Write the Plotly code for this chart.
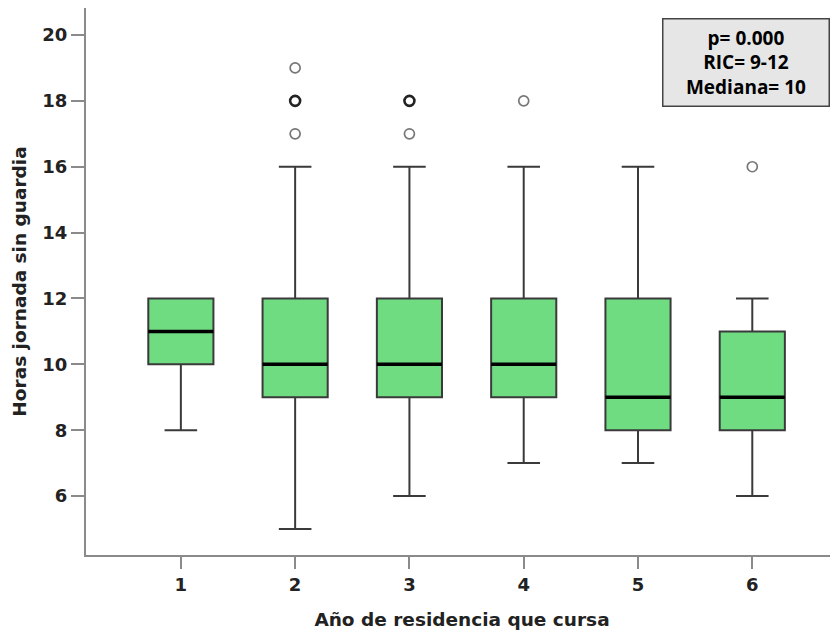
import plotly.graph_objects as go

#------Data----
anios = [1, 2, 3, 4, 5, 6]
q1 = [10, 9, 9, 9, 8, 8]
mediana = [11, 10, 10, 10, 9, 9]
q3 = [12, 12, 12, 12, 12, 11]
bigote_inf = [8, 5, 6, 7, 7, 6]
bigote_sup = [12, 16, 16, 16, 16, 12]

# outliers (n = number of cases overlapping at that point)
out_x = [2, 2, 2, 3, 3, 4, 6]
out_y = [19, 18, 17, 18, 17, 18, 16]
out_n = [1, 3, 1, 3, 1, 1, 1]

y_ticks = [6, 8, 10, 12, 14, 16, 18, 20]

#------Styles----
verde = "rgb(111, 220, 130)"
gris_linea = "#3a3a3a"
gris_eje = "#8a8a8a"
ancho = 0.57

fig = go.Figure()

fig.add_trace(go.Box(
    x=anios,
    q1=q1,
    median=mediana,
    q3=q3,
    lowerfence=bigote_inf,
    upperfence=bigote_sup,
    boxpoints=False,
    width=ancho,
    whiskerwidth=0.5,
    fillcolor=verde,
    line=dict(color=gris_linea, width=2),
    hoverinfo="skip",
    showlegend=False
))

# thick median lines
med_x, med_y = [], []
for a, m in zip(anios, mediana):
    med_x += [a - ancho / 2, a + ancho / 2, None]
    med_y += [m, m, None]
fig.add_trace(go.Scatter(
    x=med_x, y=med_y, mode="lines",
    line=dict(color="black", width=3.5),
    hoverinfo="skip", showlegend=False
))

fig.add_trace(go.Scatter(
    x=out_x, y=out_y, mode="markers",
    marker=dict(
        symbol="circle-open", size=10,
        color=["#222222" if n > 1 else "#777777" for n in out_n],
        line=dict(width=[2.6 if n > 1 else 1.7 for n in out_n])
    ),
    hoverinfo="y", showlegend=False
))

fig.add_annotation(
    x=0.989, y=0.982, xref="paper", yref="paper",
    xanchor="right", yanchor="top",
    text="p= 0.000<br>RIC= 9-12<br>Mediana= 10",
    showarrow=False, align="center", valign="middle",
    font=dict(family="Open Sans", size=19, color="black", weight="bold"),
    bgcolor="#e6e6e6", bordercolor="#444444", borderwidth=1.5,
    borderpad=5, width=155, height=76
)

fig.update_layout(
    width=830, height=629,
    margin=dict(l=78, r=0, t=0, b=82),
    plot_bgcolor="white", paper_bgcolor="white",
    font=dict(family="DejaVu Sans", size=18, color="#222222"),
    xaxis=dict(
        range=[0.17, 6.75],
        tickvals=anios, ticktext=[str(a) for a in anios],
        ticks="outside", ticklen=12, tickwidth=2, tickcolor=gris_eje,
        showline=True, linecolor=gris_eje, linewidth=2,
        showgrid=False, zeroline=False,
        tickfont=dict(size=18, weight="bold"),
        title=dict(text="Año de residencia que cursa", standoff=19,
                   font=dict(size=18.5, weight="bold"))
    ),
    yaxis=dict(
        range=[4.21, 20.82],
        tickvals=y_ticks,
        ticks="outside", ticklen=13, tickwidth=2, tickcolor=gris_eje,
        showline=True, linecolor=gris_eje, linewidth=2,
        showgrid=False, zeroline=False,
        tickfont=dict(size=18, weight="bold"),
        title=dict(text="Horas jornada sin guardia", standoff=11,
                   font=dict(size=18.5, weight="bold"))
    )
)

fig.write_html("out.html")
